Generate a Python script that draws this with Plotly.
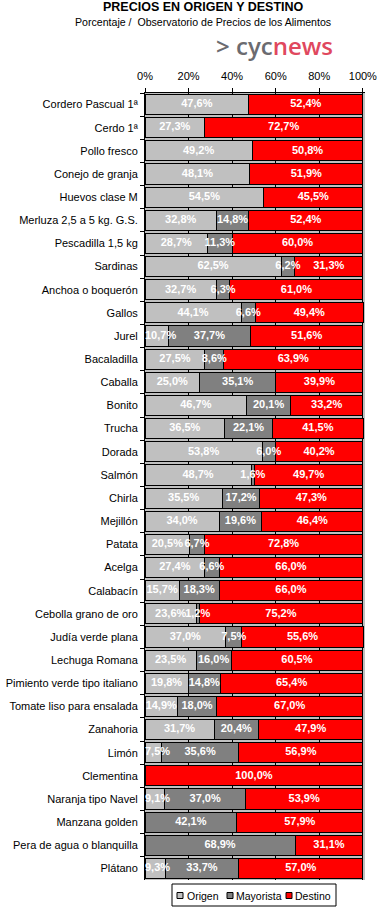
import plotly.graph_objects as go

categories = [
    "Cordero Pascual 1ª", "Cerdo 1ª", "Pollo fresco", "Conejo de granja", "Huevos clase M",
    "Merluza 2,5 a 5 kg. G.S.", "Pescadilla 1,5 kg", "Sardinas", "Anchoa o boquerón", "Gallos",
    "Jurel", "Bacaladilla", "Caballa", "Bonito", "Trucha", "Dorada", "Salmón", "Chirla",
    "Mejillón", "Patata", "Acelga", "Calabacín", "Cebolla grano de oro", "Judía verde plana",
    "Lechuga Romana", "Pimiento verde tipo italiano", "Tomate liso para ensalada", "Zanahoria",
    "Limón", "Clementina", "Naranja tipo Navel", "Manzana golden", "Pera de agua o blanquilla",
    "Plátano",
]
origen = [47.6, 27.3, 49.2, 48.1, 54.5, 32.8, 28.7, 62.5, 32.7, 44.1, 10.7, 27.5, 25.0, 46.7,
          36.5, 53.8, 48.7, 35.5, 34.0, 20.5, 27.4, 15.7, 23.6, 37.0, 23.5, 19.8, 14.9, 31.7,
          7.5, 0.0, 9.1, 0.0, 0.0, 9.3]
mayorista = [0.0, 0.0, 0.0, 0.0, 0.0, 14.8, 11.3, 6.2, 6.3, 6.6, 37.7, 8.6, 35.1, 20.1,
             22.1, 6.0, 1.6, 17.2, 19.6, 6.7, 6.6, 18.3, 1.2, 7.5, 16.0, 14.8, 18.0, 20.4,
             35.6, 0.0, 37.0, 42.1, 68.9, 33.7]
destino = [52.4, 72.7, 50.8, 51.9, 45.5, 52.4, 60.0, 31.3, 61.0, 49.4, 51.6, 63.9, 39.9, 33.2,
           41.5, 40.2, 49.7, 47.3, 46.4, 72.8, 66.0, 66.0, 75.2, 55.6, 60.5, 65.4, 67.0, 47.9,
           56.9, 100.0, 53.9, 57.9, 31.1, 57.0]
series_names = ["Origen", "Mayorista", "Destino"]
series_colors = ["#C0C0C0", "#808080", "#FF0000"]
x_tick_vals = [0, 20, 40, 60, 80, 100]
x_tick_text = ["0%", "20%", "40%", "60%", "80%", "100%"]

title_text = "PRECIOS EN ORIGEN Y DESTINO"
subtitle_text = "Porcentaje /  Observatorio de Precios de los Alimentos"

W, H = 377, 909
L, R, T, B = 145, 12, 93, 29
PW, PH = W - L - R, H - T - B


def px(x):
    return (x - L) / PW


def py(y):
    return (H - B - y) / PH


def fmt(v):
    return (f"{v:.1f}".replace(".", ",") + "%") if v > 0 else ""


FONT = "Liberation Sans, Arial, sans-serif"

fig = go.Figure()
all_series = [origen, mayorista, destino]
for name, vals, col in zip(series_names, all_series, series_colors):
    fig.add_trace(go.Bar(
        y=categories, x=vals, name=name, orientation="h",
        marker=dict(color=col, line=dict(color="black", width=1)),
        showlegend=False, hoverinfo="x+name",
    ))

# value labels centred in each segment (kept inside the plot at the left edge)
lab_x, lab_y, lab_t = [], [], []
left_x, left_y, left_t = [], [], []
for i, cat in enumerate(categories):
    base = 0.0
    for vals in all_series:
        v = vals[i]
        if v > 0:
            if base == 0 and v / 2 < 6:
                left_x.append(0)
                left_y.append(cat)
                left_t.append(fmt(v))
            else:
                lab_x.append(base + v / 2)
                lab_y.append(cat)
                lab_t.append(fmt(v))
        base += v
label_font = dict(color="white", size=11, family=FONT, weight="bold")
fig.add_trace(go.Scatter(
    x=lab_x, y=lab_y, text=lab_t, mode="text", textposition="middle center",
    textfont=label_font, showlegend=False, hoverinfo="skip", cliponaxis=False,
))
fig.add_trace(go.Scatter(
    x=left_x, y=left_y, text=left_t, mode="text", textposition="middle right",
    textfont=label_font, showlegend=False, hoverinfo="skip", cliponaxis=False,
))

annotations = [
    dict(text=f"<b>{title_text}</b>", x=px(203), y=py(7), xref="paper", yref="paper",
         showarrow=False, xanchor="center", yanchor="middle",
         font=dict(size=12.5, color="black", family=FONT)),
    dict(text=subtitle_text, x=px(203), y=py(22), xref="paper", yref="paper",
         showarrow=False, xanchor="center", yanchor="middle",
         font=dict(size=10.6, color="black", family=FONT)),
    dict(text="<span style='color:#6b6b70'>&gt; cyc</span><span style='color:#E0485E'>news</span>",
         x=px(274), y=py(46), xref="paper", yref="paper",
         showarrow=False, xanchor="center", yanchor="middle",
         font=dict(size=24, family="Open Sans, sans-serif", weight=600)),
]

shapes = [
    dict(type="rect", xref="paper", yref="paper", x0=px(172), x1=px(336), y0=py(884), y1=py(906),
         line=dict(color="black", width=1), fillcolor="white", layer="above"),
]
legend_pos = [(177, 185), (227, 234), (286, 293)]
for (sx, tx), name, col in zip(legend_pos, series_names, series_colors):
    shapes.append(dict(type="rect", xref="paper", yref="paper", x0=px(sx), x1=px(sx + 6),
                       y0=py(892.5), y1=py(898.5), line=dict(color="black", width=1),
                       fillcolor=col, layer="above"))
    annotations.append(dict(text=name, x=px(tx), y=py(895.5), xref="paper", yref="paper",
                            showarrow=False, xanchor="left", yanchor="middle",
                            font=dict(size=10.5, color="black", family=FONT)))

fig.update_layout(
    width=W, height=H, margin=dict(l=L, r=R, t=T, b=B, pad=0, autoexpand=False),
    barmode="stack", bargap=0.13,
    paper_bgcolor="white", plot_bgcolor="#C0C0C0",
    font=dict(family=FONT, size=11, color="black"),
    annotations=annotations, shapes=shapes,
    xaxis=dict(side="top", range=[0, 101], tickvals=x_tick_vals, ticktext=x_tick_text,
               showgrid=True, gridcolor="black", gridwidth=1, zeroline=False,
               showline=True, linecolor="black", linewidth=1, automargin=False,
               ticks="outside", ticklen=4, tickcolor="black", ticklabelstandoff=4,
               ticklabeloverflow="allow",
               tickfont=dict(size=11, family=FONT, color="black"), fixedrange=True),
    yaxis=dict(range=[len(categories) - 0.5, -0.5], showline=True, linecolor="black",
               linewidth=1, ticks="outside", ticklen=4, tickcolor="black",
               tickson="boundaries", showgrid=False, automargin=False,
               ticklabelstandoff=4,
               tickfont=dict(size=11, family=FONT, color="black"), fixedrange=True),
)

fig.write_html("out.html", post_script="document.body.style.margin='0';",
               config={"displayModeBar": False})
